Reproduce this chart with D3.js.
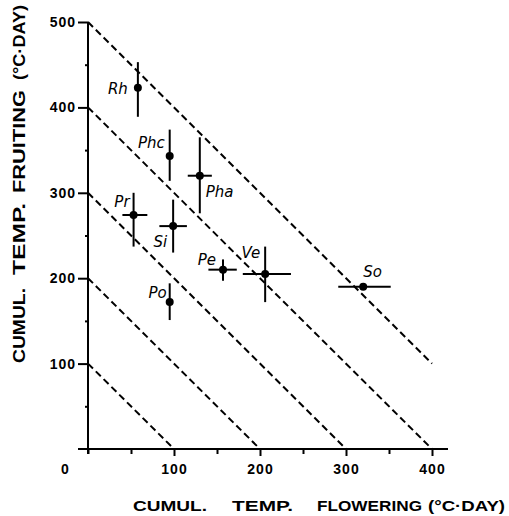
<!DOCTYPE html>
<html><head><meta charset="utf-8">
<script src="https://cdn.jsdelivr.net/npm/d3@7"></script>
<style>body{margin:0;background:#fff}svg{display:block}</style>
</head><body>
<svg id="c" width="509" height="516"></svg>
<script>
// ---- data ----
const species = ["Rh","Phc","Pha","Pr","Si","Pe","Ve","Po","So"];
const flowering = [58, 95, 130, 53, 99, 157, 206, 95, 320];
const fruiting  = [423, 343, 320, 274, 261, 210, 205, 172, 190];
const flowLo = [null, null, 116, 40, 83, 140, 180, null, 291];
const flowHi = [null, null, 144, 69, 115, 173, 236, null, 352];
const fruitLo = [389, 314, 276, 237, 230, 197, 172, 151, null];
const fruitHi = [453, 374, 365, 300, 292, 222, 237, 194, null];
const isoSums = [100, 200, 300, 400, 500];
const isoEndX = [100, 200, 300, 400, 400];
const xTicks = [100, 200, 300, 400];
const yTicks = [100, 200, 300, 400, 500];
const xMinor = [50, 150, 250, 350];
const yMinor = [50, 150, 250, 350, 450];

// label layout (pixel offsets from point)
const labelLayout = {
  Rh:{dx:-10,dy:6,a:"end"}, Phc:{dx:-5,dy:-8,a:"end"}, Pha:{dx:6,dy:21,a:"start"},
  Pr:{dx:-4,dy:-8,a:"end"}, Si:{dx:-6,dy:21,a:"end"}, Pe:{dx:-7,dy:-5,a:"end"},
  Ve:{dx:-5,dy:-16,a:"end"}, Po:{dx:-3,dy:-4,a:"end"}, So:{dx:0,dy:-10,a:"start"}
};

const svg = d3.select("#c");
const x = d3.scaleLinear().domain([0,400]).range([88,432]);
const y = d3.scaleLinear().domain([0,500]).range([449,22]);
const ink = "#000";

// axis lines
svg.append("line").attr("x1",78).attr("x2",448).attr("y1",y(0)).attr("y2",y(0))
  .attr("stroke",ink).attr("stroke-width",2);
svg.append("line").attr("x1",x(0)).attr("x2",x(0)).attr("y1",y(500)).attr("y2",y(0)+5)
  .attr("stroke",ink).attr("stroke-width",2);

const tickFont = "'Liberation Sans', Arial, sans-serif";
// y axis
const gy = svg.append("g").attr("transform",`translate(${x(0)},0)`)
  .call(d3.axisLeft(y).tickValues(yTicks).tickSize(10).tickSizeOuter(0).tickPadding(2));
const gy2 = svg.append("g").attr("transform",`translate(${x(0)},0)`)
  .call(d3.axisLeft(y).tickValues(yMinor).tickSize(3).tickSizeOuter(0).tickFormat(""));
// x axis
const gx = svg.append("g").attr("transform",`translate(0,${y(0)})`)
  .call(d3.axisBottom(x).tickValues(xTicks).tickSize(7).tickSizeOuter(0).tickPadding(8));
const gx2 = svg.append("g").attr("transform",`translate(0,${y(0)})`)
  .call(d3.axisBottom(x).tickValues([0].concat(xMinor)).tickSize(5).tickSizeOuter(0).tickFormat(""));
[gy,gy2,gx,gx2].forEach(g=>{
  g.select(".domain").remove();
  g.selectAll(".tick line").attr("stroke",ink).attr("stroke-width",2);
  g.selectAll(".tick text").attr("fill",ink).attr("font-family",null).attr("font-size",null)
    .style("font-family",tickFont).style("font-weight","bold").style("font-size","14px")
    .style("letter-spacing","1px");
});
svg.append("text").attr("x",x(0)-23).attr("y",y(0)+25).attr("text-anchor","middle")
  .style("font-family",tickFont).style("font-weight","bold").style("font-size","14px").text("0");

// iso-thermal dashed lines
svg.append("g").selectAll("line").data(isoSums).join("line")
  .attr("x1",x(0)).attr("y1",d=>y(d))
  .attr("x2",(d,i)=>x(isoEndX[i])).attr("y2",(d,i)=>y(d-isoEndX[i]))
  .attr("stroke",ink).attr("stroke-width",2).attr("stroke-dasharray","7,4");

// error bars and points
const pts = species.map((s,i)=>({s, fx:flowering[i], fy:fruiting[i], xl:flowLo[i], xh:flowHi[i], yl:fruitLo[i], yh:fruitHi[i]}));
const gp = svg.append("g");
gp.selectAll("line.h").data(pts.filter(d=>d.xl!=null)).join("line").attr("class","h")
  .attr("x1",d=>x(d.xl)).attr("x2",d=>x(d.xh)).attr("y1",d=>y(d.fy)).attr("y2",d=>y(d.fy))
  .attr("stroke",ink).attr("stroke-width",2);
gp.selectAll("line.v").data(pts.filter(d=>d.yl!=null)).join("line").attr("class","v")
  .attr("x1",d=>x(d.fx)).attr("x2",d=>x(d.fx)).attr("y1",d=>y(d.yl)).attr("y2",d=>y(d.yh))
  .attr("stroke",ink).attr("stroke-width",2);
gp.selectAll("circle").data(pts).join("circle")
  .attr("cx",d=>x(d.fx)).attr("cy",d=>y(d.fy)).attr("r",4).attr("fill",ink);
gp.selectAll("text").data(pts).join("text")
  .attr("x",d=>x(d.fx)+labelLayout[d.s].dx).attr("y",d=>y(d.fy)+labelLayout[d.s].dy)
  .attr("text-anchor",d=>labelLayout[d.s].a)
  .style("font-family","'DejaVu Sans', sans-serif").style("font-style","italic")
  .style("font-size","15px").attr("fill",ink).text(d=>d.s);

// axis titles
const titleFont = "'Liberation Sans', Arial, sans-serif";
const xWords = [["CUMUL.",133,207],["TEMP.",232,293],["FLOWERING",317,422],["(°C·DAY)",428,505]];
svg.append("g").selectAll("text").data(xWords).join("text")
  .attr("x",d=>d[1]).attr("y",511).attr("textLength",d=>d[2]-d[1]).attr("lengthAdjust","spacingAndGlyphs")
  .style("font-family",titleFont).style("font-weight","bold").style("font-size","15px").text(d=>d[0]);
const yWords = [["CUMUL.",288,363],["TEMP.",203,275],["FRUITING",90,193],["(°C·DAY)",5,80]];
svg.append("g").selectAll("text").data(yWords).join("text")
  .attr("transform",d=>`translate(25,${d[2]}) rotate(-90)`)
  .attr("textLength",d=>d[2]-d[1]).attr("lengthAdjust","spacingAndGlyphs")
  .style("font-family",titleFont).style("font-weight","bold").style("font-size","17px").text(d=>d[0]);
</script>
</body></html>
